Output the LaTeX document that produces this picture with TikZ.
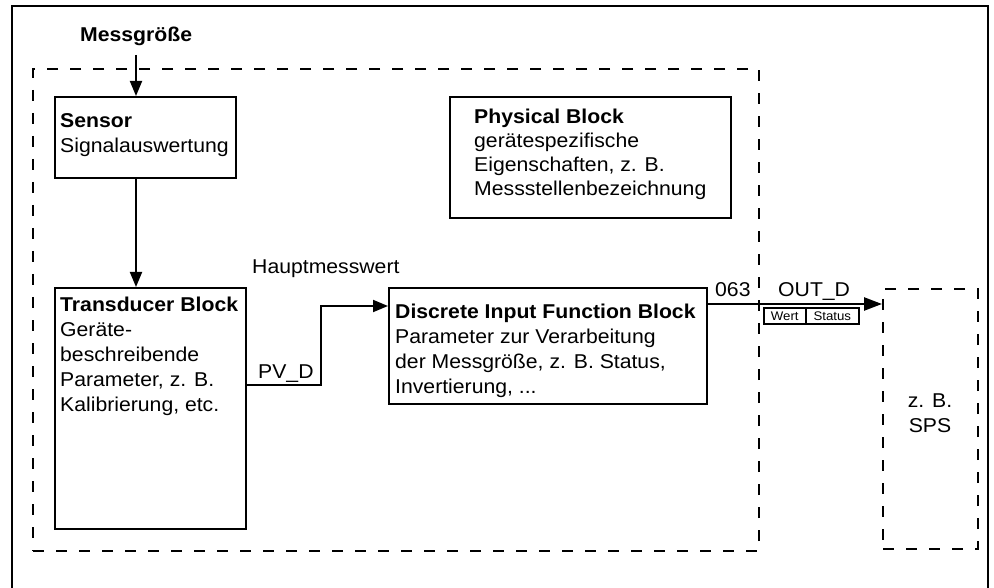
\documentclass[tikz,border=0pt]{standalone}
\usepackage{fontspec}
\setmainfont[FakeStretch=1.06]{Liberation Sans}
\usetikzlibrary{arrows.meta,calc}
\tikzset{
  box/.style={draw, line width=2pt, inner sep=0pt, anchor=north west},
  dbox/.style={draw, line width=2pt, dash pattern=on 11pt off 12pt, inner sep=0pt, anchor=north west},
  txt/.style={inner sep=0pt, anchor=base west, align=left, font=\fontsize{20}{25}\selectfont},
  small/.style={inner sep=0pt, font=\fontsize{12.5}{14}\selectfont},
  arr/.style={line width=1.8pt, -{Triangle[length=15pt,width=12pt]}},
}
\begin{document}
\begin{tikzpicture}[x=1pt,y=-1pt]
\useasboundingbox (0,0) rectangle (994,588);
\clip (0,0) rectangle (994,588);
\fill[white] (0,0) rectangle (994,588);
% outer frame
\draw[line width=2.2pt] (12,6) rectangle (988,620);
% dashed areas
\node[dbox, minimum width=726, minimum height=482] (dev) at (32,68) {};
\node[dbox, minimum width=95, minimum height=260] (sps) at (882,288) {};
% blocks
\node[box, minimum width=181, minimum height=81] (sensor) at (54,96) {};
\node[box, minimum width=191, minimum height=241] (trans) at (54,287) {};
\node[box, minimum width=318, minimum height=116] (disc) at (388,287) {};
\node[box, minimum width=281, minimum height=121] (phys) at (449,96) {};
% texts (anchor = baseline of last line)
\node[txt] (messT) at (80,42) {\bfseries Messgröße};
\node[txt] (sensorT) at (60,153) {\bfseries Sensor\\Signalauswertung};
\node[txt] (transT) at (60,411) {\bfseries Transducer Block\\Geräte-\\beschreibende\\Parameter, z. B.\\Kalibrierung, etc.};
\node[txt] (discT) at (395,393) {\bfseries Discrete Input Function Block\\Parameter zur Verarbeitung\\der Messgröße, z. B. Status,\\Invertierung, ...};
\node[txt, font=\fontsize{20}{24}\selectfont] (physT) at (474,196) {\bfseries Physical Block\\gerätespezifische\\Eigenschaften, z. B.\\Messstellenbezeichnung};
\node[txt] (hmw) at (252,274) {Hauptmesswert};
\node[txt] (pvd) at (258,378) {PV\_D};
\node[txt] (n063) at (715,297) {063};
\node[txt] (outd) at (778,297) {OUT\_D};
\node[txt, anchor=base, align=center] (spsT) at (930,432) {z. B.\\SPS};
% Wert / Status
\node[draw, line width=1.6pt, minimum width=42, minimum height=16, inner sep=0pt, anchor=north west] (wert) at (763,307) {};
\node[draw, line width=1.6pt, minimum width=53, minimum height=16, inner sep=0pt, anchor=north west] (status) at (805,307) {};
\node[small] at (wert.center) {Wert};
\node[small] at (status.center) {Status};
% connectors
\coordinate (mgtop) at (136,55);
\coordinate (pvy) at (0,385);
\coordinate (pvx) at (321,0);
\coordinate (iny) at (0,306);
\coordinate (outy) at (0,304);
\draw[arr] (mgtop) -- (mgtop |- sensor.north);
\draw[arr] (mgtop |- sensor.south) -- (mgtop |- trans.north);
\draw[arr] (trans.east |- pvy) -- (pvx |- pvy) -- (pvx |- iny) -- (disc.west |- iny);
\draw[line width=2.4pt, -{Triangle[length=18pt,width=13pt]}] (disc.east |- outy) -- (sps.west |- outy);
\end{tikzpicture}
\end{document}
